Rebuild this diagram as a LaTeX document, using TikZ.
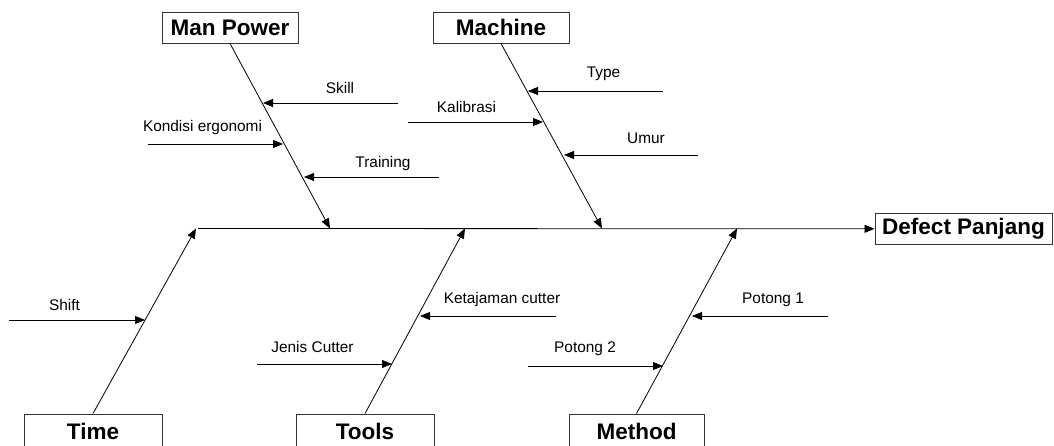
\documentclass[tikz,border=0pt]{standalone}
\usepackage{fontspec}
\setmainfont{Liberation Sans}
\usetikzlibrary{arrows.meta}

\begin{document}
\begin{tikzpicture}[x=1pt,y=-1pt]
        \tikzset{
    bone/.style={draw=black, line width=0.8pt, -{Triangle[length=10pt,width=8pt]}},
    head/.style={draw=black!80, line width=0.9pt, minimum height=31pt, inner sep=0pt, font=\fontsize{22.5}{26}\selectfont\bfseries},
    cause/.style={anchor=base, inner sep=0pt, font=\fontsize{15.4}{18}\selectfont},
        }
        \useasboundingbox (0,0) rectangle (1054,446);

        % Category boxes and the effect.
        \path (230,27.5)   node[head, minimum width=136pt] (mp)   {Man Power};
        \path (501,27.5)   node[head, minimum width=136pt] (mc)   {Machine};
        \path (93,431)     node[head, minimum width=138pt, minimum height=34pt] (tm)  {Time};
        \path (365,431)    node[head, minimum width=138pt, minimum height=34pt] (tl)  {Tools};
        \path (636.5,431)  node[head, minimum width=135pt, minimum height=34pt] (me)  {Method};
        \path (963.5,228.8) node[head, minimum width=177pt, minimum height=31pt] (dp) {Defect Panjang};

        \coordinate (sp) at (198,228.5);   % spine tail
        \coordinate (mpE) at (330,228.5);  % man power bone
        \coordinate (mcE) at (602,228.5);  % machine bone
        \coordinate (tmE) at (196,228.5);  % time bone
        \coordinate (tlE) at (465,228.5);  % tools bone
        \coordinate (meE) at (737,228.5);  % method bone

        % Draw the spine and the main bones first.
        \draw[bone] (sp) -- (dp.west);
        \draw[bone] (mp.south) -- (mpE);
        \draw[bone] (mc.south) -- (mcE);
        \draw[bone] (tm.north) -- (tmE);
        \draw[bone] (tl.north) -- (tlE);
        \draw[bone] (me.north) -- (meE);

        % Causes of man power.
        \coordinate (skA) at (398,103);  \coordinate (skB) at (263,103);
        \coordinate (keA) at (148,144);  \coordinate (keB) at (283,144);
        \coordinate (trA) at (439,177);  \coordinate (trB) at (304,177);
        \draw[bone] (skA) -- (skB);
        \draw[bone] (keA) -- (keB);
        \draw[bone] (trA) -- (trB);
        \path (340,94)    node[cause] (sk) {Skill};
        \path (202.5,132) node[cause] (ke) {Kondisi ergonomi};
        \path (383,168)   node[cause] (tr) {Training};

        % Causes of machine.
        \coordinate (tyA) at (663,91);   \coordinate (tyB) at (528,91);
        \coordinate (kaA) at (408,122);  \coordinate (kaB) at (543,122);
        \coordinate (umA) at (698,155);  \coordinate (umB) at (564,155);
        \draw[bone] (tyA) -- (tyB);
        \draw[bone] (kaA) -- (kaB);
        \draw[bone] (umA) -- (umB);
        \path (603.5,78)  node[cause] (ty) {Type};
        \path (466.5,113) node[cause] (ka) {Kalibrasi};
        \path (646,144)   node[cause] (um) {Umur};

        % Causes of time, tools and method.
        \coordinate (shA) at (9,320);    \coordinate (shB) at (145,320);
        \coordinate (jcA) at (257,364);  \coordinate (jcB) at (392,364);
        \coordinate (kcA) at (556,316);  \coordinate (kcB) at (420,316);
        \coordinate (poA) at (828,316);  \coordinate (poB) at (692,316);
        \coordinate (ptA) at (528,366);  \coordinate (ptB) at (663,366);
        \draw[bone] (shA) -- (shB);
        \draw[bone] (jcA) -- (jcB);
        \draw[bone] (kcA) -- (kcB);
        \draw[bone] (poA) -- (poB);
        \draw[bone] (ptA) -- (ptB);
        \path (64.5,310)  node[cause] (sh) {Shift};
        \path (312.5,352) node[cause] (jc) {Jenis Cutter};
        \path (502,303)   node[cause] (kc) {Ketajaman cutter};
        \path (773,303)   node[cause] (po) {Potong 1};
        \path (585,352)   node[cause] (pt) {Potong 2};
      \end{tikzpicture}
\end{document}
